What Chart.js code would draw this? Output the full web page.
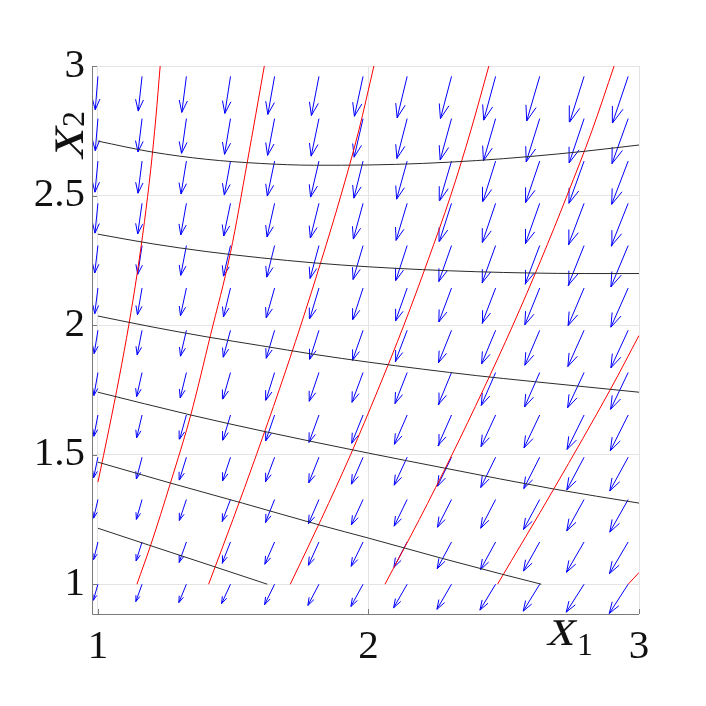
<!DOCTYPE html>
<html>
<head>
<meta charset="utf-8">
<script src="https://cdn.jsdelivr.net/npm/chart.js@4.4.1/dist/chart.umd.min.js"></script>
<style>
  body { margin: 0; background: #fff; }
  #wrap { width: 706px; height: 706px; }
</style>
</head>
<body>
<div id="wrap"><canvas id="chart" width="706" height="706"></canvas></div>
<script>
// quiver grid (arrow tails)
const X1 = [1.000, 1.163, 1.327, 1.490, 1.653, 1.817, 1.980, 2.143, 2.307, 2.470, 2.633, 2.797, 2.960];
const X2 = [1.000, 1.163, 1.327, 1.490, 1.653, 1.817, 1.980, 2.143, 2.307, 2.470, 2.633, 2.797, 2.960];

// arrow components, one row per X2 value (bottom row first)
const U = [
  [-0.017,-0.023,-0.028,-0.033,-0.037,-0.041,-0.045,-0.050,-0.054,-0.058,-0.061,-0.066,-0.070],
  [-0.016,-0.022,-0.027,-0.031,-0.036,-0.039,-0.044,-0.049,-0.053,-0.056,-0.060,-0.065,-0.069],
  [-0.016,-0.021,-0.026,-0.031,-0.034,-0.039,-0.043,-0.048,-0.052,-0.055,-0.060,-0.064,-0.068],
  [-0.016,-0.021,-0.026,-0.029,-0.034,-0.038,-0.043,-0.048,-0.052,-0.055,-0.059,-0.064,-0.068],
  [-0.015,-0.020,-0.025,-0.028,-0.033,-0.037,-0.042,-0.047,-0.050,-0.054,-0.058,-0.063,-0.066],
  [-0.015,-0.020,-0.023,-0.028,-0.032,-0.036,-0.041,-0.045,-0.049,-0.053,-0.056,-0.061,-0.065],
  [-0.014,-0.018,-0.022,-0.027,-0.031,-0.034,-0.039,-0.044,-0.048,-0.052,-0.055,-0.060,-0.064],
  [-0.012,-0.017,-0.022,-0.026,-0.031,-0.034,-0.038,-0.043,-0.047,-0.050,-0.055,-0.059,-0.064],
  [-0.012,-0.016,-0.021,-0.026,-0.029,-0.033,-0.037,-0.042,-0.047,-0.050,-0.054,-0.059,-0.064],
  [-0.011,-0.016,-0.021,-0.025,-0.028,-0.032,-0.036,-0.041,-0.045,-0.049,-0.053,-0.058,-0.063],
  [-0.011,-0.015,-0.020,-0.023,-0.027,-0.031,-0.034,-0.039,-0.043,-0.047,-0.052,-0.056,-0.061],
  [-0.010,-0.015,-0.018,-0.022,-0.026,-0.029,-0.033,-0.038,-0.042,-0.045,-0.050,-0.055,-0.060],
  [-0.010,-0.014,-0.017,-0.021,-0.025,-0.028,-0.032,-0.037,-0.041,-0.044,-0.048,-0.053,-0.058]
];
const V = [
  [-0.062,-0.067,-0.071,-0.075,-0.079,-0.082,-0.086,-0.091,-0.097,-0.100,-0.104,-0.108,-0.113],
  [-0.068,-0.073,-0.079,-0.082,-0.086,-0.090,-0.094,-0.098,-0.103,-0.107,-0.112,-0.117,-0.122],
  [-0.072,-0.077,-0.081,-0.085,-0.089,-0.094,-0.098,-0.103,-0.107,-0.111,-0.116,-0.121,-0.126],
  [-0.079,-0.084,-0.088,-0.091,-0.095,-0.099,-0.104,-0.108,-0.112,-0.117,-0.121,-0.126,-0.130],
  [-0.082,-0.088,-0.093,-0.097,-0.100,-0.106,-0.109,-0.113,-0.118,-0.122,-0.127,-0.133,-0.138],
  [-0.089,-0.093,-0.098,-0.102,-0.107,-0.111,-0.115,-0.120,-0.124,-0.127,-0.133,-0.136,-0.142],
  [-0.090,-0.095,-0.100,-0.104,-0.108,-0.112,-0.116,-0.121,-0.125,-0.130,-0.135,-0.140,-0.145],
  [-0.099,-0.103,-0.107,-0.111,-0.115,-0.118,-0.122,-0.127,-0.131,-0.136,-0.142,-0.145,-0.151],
  [-0.106,-0.111,-0.115,-0.118,-0.122,-0.127,-0.131,-0.135,-0.139,-0.144,-0.149,-0.154,-0.160],
  [-0.115,-0.118,-0.122,-0.126,-0.130,-0.134,-0.138,-0.143,-0.147,-0.151,-0.156,-0.160,-0.165],
  [-0.120,-0.124,-0.127,-0.131,-0.135,-0.139,-0.143,-0.147,-0.152,-0.156,-0.160,-0.163,-0.167],
  [-0.124,-0.129,-0.134,-0.138,-0.142,-0.145,-0.149,-0.154,-0.160,-0.163,-0.167,-0.171,-0.174],
  [-0.129,-0.134,-0.139,-0.143,-0.147,-0.151,-0.154,-0.160,-0.163,-0.169,-0.172,-0.176,-0.180]
];

// red curves [x1, x2]
const RED_1 = [[1.000,1.394],[1.041,1.600],[1.079,1.800],[1.114,2.000],[1.145,2.200],[1.172,2.400],[1.195,2.600],[1.214,2.800],[1.230,3.000]];
const RED_2 = [[1.144,1.000],[1.195,1.151],[1.269,1.394],[1.343,1.653],[1.416,1.961],[1.490,2.280],[1.552,2.629],[1.615,3.000]];
const RED_3 = [[1.409,1.000],[1.499,1.250],[1.586,1.500],[1.670,1.750],[1.750,2.000],[1.826,2.250],[1.898,2.500],[1.964,2.750],[2.020,3.000]];
const RED_4 = [[1.711,1.000],[1.825,1.250],[1.934,1.500],[2.035,1.750],[2.131,2.000],[2.220,2.250],[2.304,2.500],[2.378,2.750],[2.445,3.000]];
const RED_5 = [[2.061,1.000],[2.188,1.250],[2.309,1.500],[2.424,1.750],[2.534,2.000],[2.637,2.250],[2.734,2.500],[2.826,2.750],[2.908,3.000]];
const RED_6 = [[2.477,1.000],[2.687,1.371],[2.897,1.757],[3.000,1.960]];
const RED_7 = [[2.960,1.000],[3.000,1.045]];

// black curves [x1, x2]
const BLACK_1 = [[1.0,2.710],[1.2,2.668],[1.4,2.640],[1.6,2.624],[1.8,2.617],[2.0,2.618],[2.2,2.624],[2.4,2.635],[2.6,2.651],[2.8,2.671],[3.0,2.695]];
const BLACK_2 = [[1.0,2.351],[1.2,2.314],[1.4,2.284],[1.6,2.260],[1.8,2.240],[2.0,2.225],[2.2,2.214],[2.4,2.206],[2.6,2.201],[2.8,2.199],[3.0,2.199]];
const BLACK_3 = [[1.0,2.035],[1.2,1.993],[1.4,1.955],[1.6,1.921],[1.8,1.887],[2.0,1.857],[2.2,1.830],[2.4,1.805],[2.6,1.783],[2.8,1.762],[3.0,1.741]];
const BLACK_4 = [[1.000,1.741],[1.343,1.653],[1.626,1.587],[2.000,1.506],[2.282,1.448],[2.687,1.367],[3.000,1.313]];
const BLACK_5 = [[1.000,1.471],[1.269,1.390],[1.534,1.313],[1.821,1.228],[2.000,1.178],[2.271,1.100],[2.492,1.039],[2.639,1.000]];
const BLACK_6 = [[1.000,1.216],[1.188,1.151],[1.435,1.066],[1.626,1.000]];

const X_TICKS = [1, 2, 3];
const Y_TICKS = [1, 1.5, 2, 2.5, 3];

// quiver as one broken line: shaft, gap, head barbs, gap
const alpha = 0.33, beta = 0.33;
let quiver = [];
X2.forEach((y, r) => {
  X1.forEach((x, c) => {
    let u = U[r][c], v = V[r][c];
    let hx = x + u, hy = y + v;
    quiver.push({ x: x, y: y }, { x: hx, y: hy }, { x: hx, y: null });
    quiver.push({ x: hx - alpha * (u + beta * v), y: hy - alpha * (v - beta * u) });
    quiver.push({ x: hx, y: hy });
    quiver.push({ x: hx - alpha * (u - beta * v), y: hy - alpha * (v + beta * u) });
    quiver.push({ x: hx, y: null });
  });
});

function curve(pts, color) {
  return {
    data: pts.map(p => ({ x: p[0], y: p[1] })),
    borderColor: color,
    borderWidth: 1,
    pointRadius: 0,
    showLine: true,
    cubicInterpolationMode: 'monotone'
  };
}

const datasets = [
  curve(BLACK_1, '#2b2b2b'), curve(BLACK_2, '#2b2b2b'), curve(BLACK_3, '#2b2b2b'),
  curve(BLACK_4, '#2b2b2b'), curve(BLACK_5, '#2b2b2b'), curve(BLACK_6, '#2b2b2b'),
  curve(RED_1, '#ff0000'), curve(RED_2, '#ff0000'), curve(RED_3, '#ff0000'),
  curve(RED_4, '#ff0000'), curve(RED_5, '#ff0000'), curve(RED_6, '#ff0000'), curve(RED_7, '#ff0000'),
  { data: quiver, borderColor: '#0000ff', borderWidth: 1, pointRadius: 0, showLine: true, spanGaps: false, tension: 0 }
];

const axisColor = '#7a7a7a';
const tickFont = '"Liberation Serif", "DejaVu Serif", serif';

// slanted serif glyph, standing in for the math italic
function slanted(ctx, text, size, px, py) {
  ctx.save();
  ctx.translate(px, py);
  ctx.transform(1, 0, -0.25, 1, 0, 0);
  ctx.font = size + 'px ' + tickFont;
  ctx.fillText(text, 0, 0);
  ctx.restore();
}

const matlabAxes = {
  id: 'matlabAxes',
  afterDraw(chart) {
    const { ctx, chartArea: a, scales: { x, y } } = chart;
    ctx.save();
    ctx.strokeStyle = axisColor;
    ctx.lineWidth = 1;
    ctx.beginPath();
    ctx.moveTo(a.left + 0.5, a.top);
    ctx.lineTo(a.left + 0.5, a.bottom + 0.5);
    ctx.lineTo(a.right, a.bottom + 0.5);
    // inward ticks
    X_TICKS.forEach(t => {
      let px = Math.round(x.getPixelForValue(t)) + 0.5;
      ctx.moveTo(px, a.bottom);
      ctx.lineTo(px, a.bottom - 5);
    });
    Y_TICKS.forEach(t => {
      let py = Math.round(y.getPixelForValue(t)) + 0.5;
      ctx.moveTo(a.left, py);
      ctx.lineTo(a.left + 5, py);
    });
    ctx.stroke();

    // axis labels
    ctx.fillStyle = '#111';
    ctx.textBaseline = 'alphabetic';
    ctx.textAlign = 'left';
    slanted(ctx, 'x', 54, 546, 645);
    ctx.font = '32px ' + tickFont;
    ctx.fillText('1', 577, 655);

    ctx.translate(83, 160);
    ctx.rotate(-Math.PI / 2);
    slanted(ctx, 'x', 60, 0, 0);
    ctx.font = '32px ' + tickFont;
    ctx.fillText('2', 33, 1);
    ctx.restore();
  }
};

new Chart(document.getElementById('chart'), {
  type: 'scatter',
  data: { datasets: datasets },
  options: {
    responsive: false,
    animation: false,
    events: [],
    layout: { padding: { left: 0, top: 66, right: 67, bottom: 0 } },
    plugins: { legend: { display: false }, tooltip: { enabled: false } },
    scales: {
      x: {
        type: 'linear',
        min: 0.978,
        max: 3,
        afterBuildTicks: s => { s.ticks = X_TICKS.map(v => ({ value: v })); },
        afterFit: s => { s.height = 92; },
        grid: { color: '#e4e4e4', drawTicks: false },
        border: { display: false },
        ticks: {
          autoSkip: false,
          maxRotation: 0,
          padding: 9,
          color: '#111',
          font: { family: tickFont, size: 41, lineHeight: 1.2 },
          callback: v => String(v)
        }
      },
      y: {
        type: 'linear',
        min: 0.885,
        max: 3,
        afterBuildTicks: s => { s.ticks = Y_TICKS.map(v => ({ value: v })); },
        afterFit: s => { s.width = 92; },
        grid: { color: '#e4e4e4', drawTicks: false },
        border: { display: false },
        ticks: {
          autoSkip: false,
          padding: 7,
          color: '#111',
          font: { family: tickFont, size: 41 },
          callback: v => String(v)
        }
      }
    }
  },
  plugins: [matlabAxes]
});
</script>
</body>
</html>
